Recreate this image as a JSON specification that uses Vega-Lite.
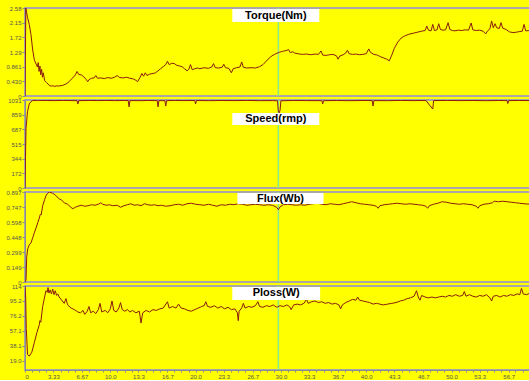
{
  "$schema": "https://vega.github.io/schema/vega-lite/v6.json",
  "background": "#ffff00",
  "autosize": {"type": "pad"},
  "padding": {"left": 0, "top": 4, "right": 0, "bottom": 0},
  "spacing": -5,
  "config": {
    "view": {"stroke": "#a8a8a8", "strokeWidth": 2},
    "axis": {"grid": false, "title": null, "domainColor": "#8c8c8c", "tickColor": "#8c8c8c", "tickSize": 3, "labelFontSize": 6, "labelColor": "#555555", "labelFont": "Liberation Sans", "labelPadding": 1, "labelOverlap": false, "tickCount": 1000},
    "axisY": {"minExtent": 24, "maxExtent": 24, "labelOverlap": false, "tickCount": 1000}
  },
  "datasets": {
    "cursor": [{"t": 29.7}],
    "lab_torque": [{"t1": 24.3, "t2": 34.5, "y1": 2.17, "y2": 2.55, "tc": 29.4, "yc": 2.36, "label": "Torque(Nm)"}],
    "lab_speed": [{"t1": 24.3, "t2": 34.5, "y1": 738, "y2": 879, "tc": 29.4, "yc": 808, "label": "Speed(rmp)"}],
    "lab_flux": [{"t1": 24.9, "t2": 35.0, "y1": 0.777, "y2": 0.887, "tc": 29.95, "yc": 0.832, "label": "Flux(Wb)"}],
    "lab_ploss": [{"t1": 24.3, "t2": 34.6, "y1": 96.2, "y2": 112.7, "tc": 29.45, "yc": 104.5, "label": "Ploss(W)"}],
    "torque": [
      {"t":0,"v":0},{"t":0.1,"v":2.58},{"t":0.3,"v":2.3},{"t":0.5,"v":2.1},{"t":0.7,"v":1.8},{"t":0.9,"v":1.35},{"t":1.1,"v":1.05},{"t":1.3,"v":0.94},{"t":1.45,"v":0.85},{"t":1.55,"v":0.98},{"t":1.65,"v":0.72},{"t":1.75,"v":0.88},{"t":1.85,"v":0.62},{"t":1.95,"v":0.78},{"t":2.05,"v":0.55},{"t":2.15,"v":0.68},{"t":2.3,"v":0.45},{"t":2.5,"v":0.4},{"t":2.7,"v":0.35},{"t":2.9,"v":0.3},{"t":3.1,"v":0.29},{"t":3.3,"v":0.3},{"t":3.5,"v":0.28},{"t":3.7,"v":0.3},{"t":3.9,"v":0.29},{"t":4.1,"v":0.3},{"t":4.4,"v":0.31},{"t":4.7,"v":0.34},{"t":5.0,"v":0.38},{"t":5.3,"v":0.46},{"t":5.6,"v":0.53},{"t":5.9,"v":0.62},{"t":6.1,"v":0.72},{"t":6.3,"v":0.63},{"t":6.6,"v":0.62},{"t":6.9,"v":0.56},{"t":7.2,"v":0.48},{"t":7.35,"v":0.42},{"t":7.5,"v":0.48},{"t":7.8,"v":0.52},{"t":8.1,"v":0.53},{"t":8.3,"v":0.6},{"t":8.5,"v":0.52},{"t":8.9,"v":0.53},{"t":9.3,"v":0.51},{"t":9.7,"v":0.54},{"t":10.1,"v":0.52},{"t":10.5,"v":0.55},{"t":10.8,"v":0.6},{"t":11.1,"v":0.54},{"t":11.5,"v":0.53},{"t":11.9,"v":0.55},{"t":12.3,"v":0.52},{"t":12.7,"v":0.5},{"t":13.0,"v":0.46},{"t":13.2,"v":0.42},{"t":13.5,"v":0.55},{"t":13.7,"v":0.66},{"t":13.9,"v":0.58},{"t":14.1,"v":0.68},{"t":14.3,"v":0.6},{"t":14.6,"v":0.64},{"t":15.0,"v":0.66},{"t":15.3,"v":0.68},{"t":15.6,"v":0.74},{"t":15.9,"v":0.8},{"t":16.2,"v":0.86},{"t":16.5,"v":0.92},{"t":16.7,"v":1.02},{"t":16.9,"v":0.92},{"t":17.2,"v":0.96},{"t":17.5,"v":0.95},{"t":17.8,"v":0.9},{"t":18.1,"v":0.88},{"t":18.4,"v":0.86},{"t":18.7,"v":0.8},{"t":19.0,"v":0.74},{"t":19.2,"v":0.78},{"t":19.4,"v":0.92},{"t":19.6,"v":0.77},{"t":19.9,"v":0.8},{"t":20.2,"v":0.82},{"t":20.5,"v":0.8},{"t":21.0,"v":0.83},{"t":21.5,"v":0.81},{"t":21.9,"v":0.85},{"t":22.1,"v":0.95},{"t":22.3,"v":0.83},{"t":22.7,"v":0.82},{"t":23.1,"v":0.84},{"t":23.3,"v":0.93},{"t":23.5,"v":0.83},{"t":23.9,"v":0.81},{"t":24.2,"v":0.68},{"t":24.4,"v":0.8},{"t":24.8,"v":0.83},{"t":25.2,"v":0.85},{"t":25.4,"v":1.0},{"t":25.6,"v":0.84},{"t":26.0,"v":0.82},{"t":26.5,"v":0.83},{"t":27.0,"v":0.82},{"t":27.5,"v":0.86},{"t":27.9,"v":0.92},{"t":28.2,"v":1.0},{"t":28.5,"v":1.08},{"t":28.8,"v":1.15},{"t":29.1,"v":1.2},{"t":29.4,"v":1.24},{"t":29.8,"v":1.28},{"t":30.2,"v":1.31},{"t":30.6,"v":1.33},{"t":30.9,"v":1.36},{"t":31.1,"v":1.27},{"t":31.4,"v":1.3},{"t":31.6,"v":1.26},{"t":32.0,"v":1.24},{"t":32.5,"v":1.22},{"t":33.0,"v":1.23},{"t":33.5,"v":1.21},{"t":34.0,"v":1.23},{"t":34.4,"v":1.22},{"t":34.7,"v":1.32},{"t":34.9,"v":1.2},{"t":35.3,"v":1.19},{"t":35.7,"v":1.21},{"t":36.1,"v":1.22},{"t":36.5,"v":1.18},{"t":36.7,"v":1.08},{"t":36.9,"v":1.17},{"t":37.3,"v":1.21},{"t":37.6,"v":1.26},{"t":37.8,"v":1.34},{"t":38.0,"v":1.24},{"t":38.4,"v":1.22},{"t":38.8,"v":1.23},{"t":39.2,"v":1.21},{"t":39.6,"v":1.22},{"t":40.0,"v":1.24},{"t":40.3,"v":1.38},{"t":40.5,"v":1.28},{"t":40.9,"v":1.22},{"t":41.3,"v":1.2},{"t":41.7,"v":1.15},{"t":42.0,"v":1.12},{"t":42.4,"v":1.08},{"t":42.7,"v":1.03},{"t":43.0,"v":1.2},{"t":43.3,"v":1.4},{"t":43.7,"v":1.58},{"t":44.1,"v":1.7},{"t":44.5,"v":1.76},{"t":45.0,"v":1.81},{"t":45.5,"v":1.84},{"t":46.0,"v":1.87},{"t":46.5,"v":1.9},{"t":46.9,"v":1.92},{"t":47.1,"v":2.05},{"t":47.3,"v":1.93},{"t":47.6,"v":1.91},{"t":47.8,"v":2.1},{"t":48.0,"v":1.92},{"t":48.3,"v":1.94},{"t":48.5,"v":2.12},{"t":48.7,"v":1.95},{"t":49.0,"v":1.93},{"t":49.3,"v":1.94},{"t":49.6,"v":2.15},{"t":49.8,"v":1.95},{"t":50.1,"v":1.92},{"t":50.4,"v":1.91},{"t":50.8,"v":1.93},{"t":51.2,"v":1.92},{"t":51.6,"v":1.94},{"t":52.0,"v":1.93},{"t":52.3,"v":2.14},{"t":52.5,"v":1.94},{"t":52.9,"v":1.92},{"t":53.3,"v":1.93},{"t":53.7,"v":1.9},{"t":54.0,"v":1.82},{"t":54.2,"v":1.9},{"t":54.5,"v":1.97},{"t":54.7,"v":2.2},{"t":54.9,"v":2.0},{"t":55.1,"v":2.12},{"t":55.3,"v":2.0},{"t":55.6,"v":1.98},{"t":55.8,"v":2.15},{"t":56.0,"v":1.99},{"t":56.4,"v":1.95},{"t":56.8,"v":1.88},{"t":57.2,"v":1.86},{"t":57.6,"v":1.87},{"t":58.0,"v":1.89},{"t":58.3,"v":1.9},{"t":58.5,"v":2.1},{"t":58.7,"v":1.91},{"t":59.2,"v":1.92}
    ],
    "speed": [
      {"t":0,"v":0},{"t":0.05,"v":300},{"t":0.12,"v":700},{"t":0.3,"v":900},{"t":0.5,"v":985},{"t":0.7,"v":1012},{"t":0.9,"v":1024},{"t":1.5,"v":1027},{"t":2.5,"v":1025},{"t":3.5,"v":1024},{"t":4.5,"v":1026},{"t":5.5,"v":1024},{"t":6.1,"v":1023},{"t":6.2,"v":985},{"t":6.3,"v":1023},{"t":7.5,"v":1026},{"t":8.5,"v":1024},{"t":9.5,"v":1026},{"t":10.5,"v":1024},{"t":11.5,"v":1025},{"t":12.1,"v":1024},{"t":12.2,"v":950},{"t":12.3,"v":1024},{"t":13.5,"v":1023},{"t":14.5,"v":1025},{"t":15.5,"v":1024},{"t":15.6,"v":950},{"t":15.7,"v":1024},{"t":16.4,"v":1023},{"t":16.5,"v":960},{"t":16.6,"v":1023},{"t":17.5,"v":1026},{"t":18.5,"v":1024},{"t":19.9,"v":1025},{"t":20.0,"v":985},{"t":20.1,"v":1025},{"t":21.5,"v":1023},{"t":23,"v":1025},{"t":24.5,"v":1024},{"t":26,"v":1026},{"t":27.5,"v":1023},{"t":29.0,"v":1024},{"t":29.6,"v":1022},{"t":29.7,"v":900},{"t":29.8,"v":880},{"t":29.9,"v":910},{"t":30.0,"v":1022},{"t":31.5,"v":1025},{"t":33.0,"v":1024},{"t":34.8,"v":1023},{"t":34.9,"v":985},{"t":35.0,"v":1023},{"t":36.5,"v":1025},{"t":38.0,"v":1023},{"t":39.5,"v":1025},{"t":40.7,"v":1024},{"t":40.8,"v":960},{"t":40.9,"v":1024},{"t":42.5,"v":1023},{"t":44,"v":1026},{"t":45.5,"v":1024},{"t":47.0,"v":1025},{"t":47.8,"v":925},{"t":47.9,"v":1024},{"t":49.5,"v":1026},{"t":51,"v":1024},{"t":52.5,"v":1025},{"t":54,"v":1023},{"t":55.5,"v":1025},{"t":56.5,"v":1024},{"t":56.6,"v":990},{"t":56.7,"v":1024},{"t":58,"v":1025},{"t":59.2,"v":1024}
    ],
    "flux": [
      {"t":0,"v":0},{"t":0.12,"v":0.02},{"t":0.2,"v":0.25},{"t":0.32,"v":0.33},{"t":0.5,"v":0.37},{"t":0.7,"v":0.39},{"t":0.9,"v":0.44},{"t":1.09,"v":0.49},{"t":1.3,"v":0.54},{"t":1.49,"v":0.59},{"t":1.65,"v":0.63},{"t":1.8,"v":0.675},{"t":1.9,"v":0.67},{"t":2.07,"v":0.76},{"t":2.3,"v":0.82},{"t":2.46,"v":0.86},{"t":2.65,"v":0.885},{"t":2.85,"v":0.897},{"t":3.05,"v":0.89},{"t":3.25,"v":0.884},{"t":3.5,"v":0.87},{"t":3.75,"v":0.85},{"t":4.0,"v":0.83},{"t":4.3,"v":0.815},{"t":4.6,"v":0.79},{"t":5.0,"v":0.775},{"t":5.3,"v":0.75},{"t":5.6,"v":0.73},{"t":5.9,"v":0.745},{"t":6.2,"v":0.755},{"t":6.6,"v":0.765},{"t":7.0,"v":0.755},{"t":7.4,"v":0.76},{"t":7.8,"v":0.77},{"t":8.2,"v":0.765},{"t":8.6,"v":0.775},{"t":8.9,"v":0.79},{"t":9.1,"v":0.775},{"t":9.5,"v":0.765},{"t":9.9,"v":0.77},{"t":10.3,"v":0.76},{"t":10.8,"v":0.765},{"t":11.2,"v":0.745},{"t":11.6,"v":0.76},{"t":12.0,"v":0.77},{"t":12.4,"v":0.78},{"t":12.8,"v":0.765},{"t":13.2,"v":0.77},{"t":13.6,"v":0.76},{"t":14.0,"v":0.78},{"t":14.4,"v":0.77},{"t":14.8,"v":0.765},{"t":15.2,"v":0.77},{"t":15.6,"v":0.76},{"t":16.0,"v":0.765},{"t":16.5,"v":0.755},{"t":17.0,"v":0.76},{"t":17.5,"v":0.77},{"t":18.0,"v":0.775},{"t":18.5,"v":0.765},{"t":19.0,"v":0.78},{"t":19.5,"v":0.785},{"t":20.0,"v":0.775},{"t":20.5,"v":0.77},{"t":21.0,"v":0.765},{"t":21.5,"v":0.775},{"t":22.0,"v":0.765},{"t":22.5,"v":0.755},{"t":23.0,"v":0.77},{"t":23.5,"v":0.765},{"t":24.0,"v":0.775},{"t":24.5,"v":0.77},{"t":25.0,"v":0.78},{"t":25.5,"v":0.775},{"t":26.0,"v":0.765},{"t":26.5,"v":0.77},{"t":27.0,"v":0.775},{"t":27.5,"v":0.77},{"t":28.0,"v":0.765},{"t":28.5,"v":0.77},{"t":29.0,"v":0.765},{"t":29.5,"v":0.745},{"t":29.7,"v":0.72},{"t":29.9,"v":0.75},{"t":30.3,"v":0.77},{"t":30.8,"v":0.775},{"t":31.3,"v":0.77},{"t":31.8,"v":0.765},{"t":32.3,"v":0.77},{"t":32.8,"v":0.765},{"t":33.3,"v":0.775},{"t":33.8,"v":0.78},{"t":34.3,"v":0.785},{"t":34.8,"v":0.775},{"t":35.3,"v":0.77},{"t":35.8,"v":0.78},{"t":36.3,"v":0.775},{"t":36.8,"v":0.77},{"t":37.3,"v":0.78},{"t":37.8,"v":0.79},{"t":38.3,"v":0.8},{"t":38.8,"v":0.79},{"t":39.3,"v":0.78},{"t":39.8,"v":0.775},{"t":40.3,"v":0.77},{"t":40.8,"v":0.765},{"t":41.2,"v":0.755},{"t":41.4,"v":0.735},{"t":41.6,"v":0.76},{"t":42.1,"v":0.77},{"t":42.6,"v":0.775},{"t":43.1,"v":0.78},{"t":43.6,"v":0.785},{"t":44.1,"v":0.78},{"t":44.6,"v":0.775},{"t":45.1,"v":0.78},{"t":45.6,"v":0.775},{"t":46.1,"v":0.77},{"t":46.6,"v":0.765},{"t":47.0,"v":0.755},{"t":47.2,"v":0.735},{"t":47.4,"v":0.76},{"t":47.9,"v":0.775},{"t":48.4,"v":0.785},{"t":48.9,"v":0.8},{"t":49.4,"v":0.795},{"t":49.9,"v":0.785},{"t":50.4,"v":0.78},{"t":50.9,"v":0.775},{"t":51.4,"v":0.78},{"t":51.9,"v":0.775},{"t":52.4,"v":0.77},{"t":52.9,"v":0.755},{"t":53.1,"v":0.735},{"t":53.3,"v":0.76},{"t":53.8,"v":0.775},{"t":54.3,"v":0.78},{"t":54.8,"v":0.79},{"t":55.0,"v":0.805},{"t":55.5,"v":0.8},{"t":56.0,"v":0.805},{"t":56.5,"v":0.8},{"t":57.0,"v":0.795},{"t":57.5,"v":0.79},{"t":58.0,"v":0.785},{"t":58.5,"v":0.78},{"t":59.2,"v":0.775}
    ],
    "ploss": [
      {"t":0,"v":114},{"t":0.08,"v":100},{"t":0.15,"v":60},{"t":0.3,"v":27},{"t":0.5,"v":25},{"t":0.8,"v":30},{"t":1.09,"v":42},{"t":1.4,"v":55},{"t":1.68,"v":65},{"t":1.75,"v":70},{"t":1.85,"v":68},{"t":2.07,"v":88},{"t":2.3,"v":100},{"t":2.46,"v":108},{"t":2.6,"v":106},{"t":2.7,"v":112},{"t":2.8,"v":105},{"t":2.95,"v":109},{"t":3.1,"v":104},{"t":3.25,"v":110},{"t":3.4,"v":103},{"t":3.55,"v":108},{"t":3.7,"v":102},{"t":3.85,"v":104},{"t":4.0,"v":100},{"t":4.3,"v":96},{"t":4.6,"v":92},{"t":4.8,"v":98},{"t":5.0,"v":90},{"t":5.4,"v":86},{"t":5.8,"v":84},{"t":6.2,"v":81},{"t":6.5,"v":80},{"t":6.8,"v":83},{"t":7.0,"v":78},{"t":7.3,"v":82},{"t":7.5,"v":88},{"t":7.7,"v":80},{"t":8.0,"v":82},{"t":8.3,"v":79},{"t":8.6,"v":84},{"t":8.8,"v":92},{"t":9.0,"v":81},{"t":9.4,"v":83},{"t":9.7,"v":80},{"t":10.0,"v":85},{"t":10.2,"v":95},{"t":10.4,"v":83},{"t":10.7,"v":81},{"t":11.0,"v":86},{"t":11.2,"v":93},{"t":11.4,"v":84},{"t":11.7,"v":82},{"t":12.0,"v":84},{"t":12.3,"v":81},{"t":12.6,"v":83},{"t":13.0,"v":80},{"t":13.4,"v":82},{"t":13.6,"v":67},{"t":13.8,"v":80},{"t":14.2,"v":83},{"t":14.6,"v":81},{"t":15.0,"v":84},{"t":15.4,"v":83},{"t":15.8,"v":85},{"t":16.2,"v":86},{"t":16.7,"v":94},{"t":16.9,"v":86},{"t":17.3,"v":88},{"t":17.7,"v":86},{"t":18.0,"v":91},{"t":18.3,"v":86},{"t":18.7,"v":85},{"t":19.1,"v":83},{"t":19.5,"v":82},{"t":19.9,"v":84},{"t":20.3,"v":86},{"t":20.7,"v":88},{"t":21.0,"v":89},{"t":21.2,"v":94},{"t":21.4,"v":88},{"t":21.8,"v":87},{"t":22.2,"v":89},{"t":22.6,"v":86},{"t":23.0,"v":88},{"t":23.4,"v":85},{"t":23.8,"v":87},{"t":24.2,"v":84},{"t":24.6,"v":85},{"t":24.9,"v":80},{"t":25.0,"v":70},{"t":25.1,"v":82},{"t":25.4,"v":86},{"t":25.6,"v":92},{"t":25.8,"v":86},{"t":26.2,"v":88},{"t":26.6,"v":87},{"t":27.0,"v":89},{"t":27.3,"v":94},{"t":27.5,"v":88},{"t":27.9,"v":87},{"t":28.3,"v":89},{"t":28.7,"v":88},{"t":29.1,"v":90},{"t":29.5,"v":87},{"t":29.9,"v":89},{"t":30.3,"v":88},{"t":30.7,"v":90},{"t":31.0,"v":88},{"t":31.2,"v":84},{"t":31.5,"v":90},{"t":31.9,"v":91},{"t":32.3,"v":90},{"t":32.7,"v":92},{"t":33.0,"v":97},{"t":33.2,"v":92},{"t":33.6,"v":94},{"t":34.0,"v":95},{"t":34.4,"v":93},{"t":34.8,"v":94},{"t":35.2,"v":92},{"t":35.6,"v":93},{"t":36.0,"v":91},{"t":36.4,"v":92},{"t":36.8,"v":90},{"t":37.0,"v":85},{"t":37.2,"v":90},{"t":37.6,"v":93},{"t":38.0,"v":95},{"t":38.4,"v":97},{"t":38.8,"v":96},{"t":39.0,"v":100},{"t":39.2,"v":96},{"t":39.6,"v":95},{"t":40.0,"v":94},{"t":40.4,"v":93},{"t":40.8,"v":91},{"t":41.2,"v":92},{"t":41.6,"v":91},{"t":42.0,"v":90},{"t":42.5,"v":91},{"t":43.0,"v":92},{"t":43.5,"v":93},{"t":44.0,"v":95},{"t":44.4,"v":96},{"t":44.8,"v":98},{"t":45.2,"v":99},{"t":45.6,"v":101},{"t":45.9,"v":108},{"t":46.1,"v":100},{"t":46.3,"v":96},{"t":46.5,"v":102},{"t":46.9,"v":100},{"t":47.3,"v":99},{"t":47.7,"v":100},{"t":48.1,"v":99},{"t":48.5,"v":100},{"t":48.9,"v":101},{"t":49.3,"v":100},{"t":49.7,"v":102},{"t":50.1,"v":101},{"t":50.5,"v":103},{"t":50.9,"v":101},{"t":51.3,"v":102},{"t":51.5,"v":107},{"t":51.7,"v":101},{"t":52.1,"v":103},{"t":52.5,"v":101},{"t":52.9,"v":100},{"t":53.3,"v":102},{"t":53.7,"v":101},{"t":54.1,"v":103},{"t":54.5,"v":99},{"t":54.7,"v":95},{"t":54.9,"v":101},{"t":55.3,"v":102},{"t":55.7,"v":100},{"t":56.1,"v":102},{"t":56.5,"v":101},{"t":56.9,"v":103},{"t":57.3,"v":102},{"t":57.7,"v":104},{"t":58.0,"v":103},{"t":58.2,"v":111},{"t":58.4,"v":104},{"t":58.8,"v":103},{"t":59.2,"v":105}
    ]
  },
  "vconcat": [
    {
      "width": 505, "height": 88,
      "layer": [
        {"data": {"name": "cursor"}, "mark": {"type": "rule", "color": "#8ee88a", "strokeWidth": 1.5},
         "encoding": {"x": {"field": "t", "type": "quantitative", "scale": {"domain": [0, 59.2], "nice": false, "zero": false}, "axis": null}}},
        {"data": {"name": "torque"}, "mark": {"type": "line", "color": "#8a1c0c", "strokeWidth": 1, "clip": true},
         "encoding": {
           "x": {"field": "t", "type": "quantitative", "scale": {"domain": [0, 59.2], "nice": false, "zero": false}, "axis": null},
           "y": {"field": "v", "type": "quantitative", "scale": {"domain": [0, 2.58], "nice": false, "zero": false},
                 "axis": {"values": [0, 0.43, 0.861, 1.29, 1.72, 2.15, 2.58], "tickCount": 1000, "labelOverlap": false, "labelExpr": "datum.value == 0 ? '0' : format(datum.value, '.3r')"}}}},
        {"data": {"name": "lab_torque"}, "mark": {"type": "rect", "fill": "#ffffff"},
         "encoding": {"x": {"field": "t1", "type": "quantitative", "scale": {"domain": [0, 59.2], "nice": false, "zero": false}, "axis": null}, "x2": {"field": "t2"},
                      "y": {"field": "y1", "type": "quantitative", "scale": {"domain": [0, 2.58], "nice": false, "zero": false}}, "y2": {"field": "y2"}}},
        {"data": {"name": "lab_torque"}, "mark": {"type": "text", "font": "Liberation Sans", "fontWeight": "bold", "fontSize": 11, "color": "#000000", "baseline": "middle"},
         "encoding": {"x": {"field": "tc", "type": "quantitative", "scale": {"domain": [0, 59.2], "nice": false, "zero": false}, "axis": null},
                      "y": {"field": "yc", "type": "quantitative", "scale": {"domain": [0, 2.58], "nice": false, "zero": false}}, "text": {"field": "label"}}}
      ]
    },
    {
      "width": 505, "height": 88,
      "layer": [
        {"data": {"name": "cursor"}, "mark": {"type": "rule", "color": "#8ee88a", "strokeWidth": 1.5},
         "encoding": {"x": {"field": "t", "type": "quantitative", "scale": {"domain": [0, 59.2], "nice": false, "zero": false}, "axis": null}}},
        {"data": {"name": "speed"}, "mark": {"type": "line", "color": "#8a1c0c", "strokeWidth": 1, "clip": true},
         "encoding": {
           "x": {"field": "t", "type": "quantitative", "scale": {"domain": [0, 59.2], "nice": false, "zero": false}, "axis": null},
           "y": {"field": "v", "type": "quantitative", "scale": {"domain": [0, 1031], "nice": false, "zero": false},
                 "axis": {"values": [0, 172, 344, 515, 687, 859, 1031], "tickCount": 1000, "labelOverlap": false, "format": "d"}}}},
        {"data": {"name": "lab_speed"}, "mark": {"type": "rect", "fill": "#ffffff"},
         "encoding": {"x": {"field": "t1", "type": "quantitative", "scale": {"domain": [0, 59.2], "nice": false, "zero": false}, "axis": null}, "x2": {"field": "t2"},
                      "y": {"field": "y1", "type": "quantitative", "scale": {"domain": [0, 1031], "nice": false, "zero": false}}, "y2": {"field": "y2"}}},
        {"data": {"name": "lab_speed"}, "mark": {"type": "text", "font": "Liberation Sans", "fontWeight": "bold", "fontSize": 11, "color": "#000000", "baseline": "middle"},
         "encoding": {"x": {"field": "tc", "type": "quantitative", "scale": {"domain": [0, 59.2], "nice": false, "zero": false}, "axis": null},
                      "y": {"field": "yc", "type": "quantitative", "scale": {"domain": [0, 1031], "nice": false, "zero": false}}, "text": {"field": "label"}}}
      ]
    },
    {
      "width": 505, "height": 90,
      "layer": [
        {"data": {"name": "cursor"}, "mark": {"type": "rule", "color": "#8ee88a", "strokeWidth": 1.5},
         "encoding": {"x": {"field": "t", "type": "quantitative", "scale": {"domain": [0, 59.2], "nice": false, "zero": false}, "axis": null}}},
        {"data": {"name": "flux"}, "mark": {"type": "line", "color": "#8a1c0c", "strokeWidth": 1, "clip": true},
         "encoding": {
           "x": {"field": "t", "type": "quantitative", "scale": {"domain": [0, 59.2], "nice": false, "zero": false}, "axis": null},
           "y": {"field": "v", "type": "quantitative", "scale": {"domain": [0, 0.897], "nice": false, "zero": false},
                 "axis": {"values": [0, 0.149, 0.299, 0.448, 0.598, 0.747, 0.897], "tickCount": 1000, "labelOverlap": false, "labelExpr": "datum.value == 0 ? '0' : format(datum.value, '.3r')"}}}},
        {"data": {"name": "lab_flux"}, "mark": {"type": "rect", "fill": "#ffffff"},
         "encoding": {"x": {"field": "t1", "type": "quantitative", "scale": {"domain": [0, 59.2], "nice": false, "zero": false}, "axis": null}, "x2": {"field": "t2"},
                      "y": {"field": "y1", "type": "quantitative", "scale": {"domain": [0, 0.897], "nice": false, "zero": false}}, "y2": {"field": "y2"}}},
        {"data": {"name": "lab_flux"}, "mark": {"type": "text", "font": "Liberation Sans", "fontWeight": "bold", "fontSize": 11, "color": "#000000", "baseline": "middle"},
         "encoding": {"x": {"field": "tc", "type": "quantitative", "scale": {"domain": [0, 59.2], "nice": false, "zero": false}, "axis": null},
                      "y": {"field": "yc", "type": "quantitative", "scale": {"domain": [0, 0.897], "nice": false, "zero": false}}, "text": {"field": "label"}}}
      ]
    },
    {
      "width": 505, "height": 84,
      "layer": [
        {"data": {"name": "cursor"}, "mark": {"type": "rule", "color": "#8ee88a", "strokeWidth": 1.5},
         "encoding": {"x": {"field": "t", "type": "quantitative", "scale": {"domain": [0, 59.2], "nice": false, "zero": false},
                            "axis": {"values": [0, 0.83, 1.67, 2.5, 3.33, 4.17, 5, 5.83, 6.67, 7.5, 8.33, 9.17, 10, 10.83, 11.67, 12.5, 13.3, 14.17, 15, 15.83, 16.7, 17.5, 18.33, 19.17, 20, 20.83, 21.67, 22.5, 23.3, 24.17, 25, 25.83, 26.7, 27.5, 28.33, 29.17, 30, 30.83, 31.67, 32.5, 33.3, 34.17, 35, 35.83, 36.7, 37.5, 38.33, 39.17, 40, 40.83, 41.67, 42.5, 43.3, 44.17, 45, 45.83, 46.7, 47.5, 48.33, 49.17, 50, 50.83, 51.67, 52.5, 53.3, 54.17, 55, 55.83, 56.7, 57.5, 58.33],
                                     "tickCount": 1000, "tickSize": 2, "labelOverlap": false,
                                     "labelExpr": "abs(datum.value * 0.3 - round(datum.value * 0.3)) < 0.03 ? (datum.value == 0 ? '0' : format(datum.value, '.3r')) : ''"}}}},
        {"data": {"name": "ploss"}, "mark": {"type": "line", "color": "#8a1c0c", "strokeWidth": 1, "clip": true},
         "encoding": {
           "x": {"field": "t", "type": "quantitative", "scale": {"domain": [0, 59.2], "nice": false, "zero": false}},
           "y": {"field": "v", "type": "quantitative", "scale": {"domain": [7.4, 114], "nice": false, "zero": false},
                 "axis": {"values": [19.0, 38.1, 57.1, 76.2, 95.2, 114], "tickCount": 1000, "labelOverlap": false, "format": ".3r"}}}},
        {"data": {"name": "lab_ploss"}, "mark": {"type": "rect", "fill": "#ffffff"},
         "encoding": {"x": {"field": "t1", "type": "quantitative", "scale": {"domain": [0, 59.2], "nice": false, "zero": false}}, "x2": {"field": "t2"},
                      "y": {"field": "y1", "type": "quantitative", "scale": {"domain": [7.4, 114], "nice": false, "zero": false}}, "y2": {"field": "y2"}}},
        {"data": {"name": "lab_ploss"}, "mark": {"type": "text", "font": "Liberation Sans", "fontWeight": "bold", "fontSize": 11, "color": "#000000", "baseline": "middle"},
         "encoding": {"x": {"field": "tc", "type": "quantitative", "scale": {"domain": [0, 59.2], "nice": false, "zero": false}},
                      "y": {"field": "yc", "type": "quantitative", "scale": {"domain": [7.4, 114], "nice": false, "zero": false}}, "text": {"field": "label"}}}
      ]
    }
  ]
}
